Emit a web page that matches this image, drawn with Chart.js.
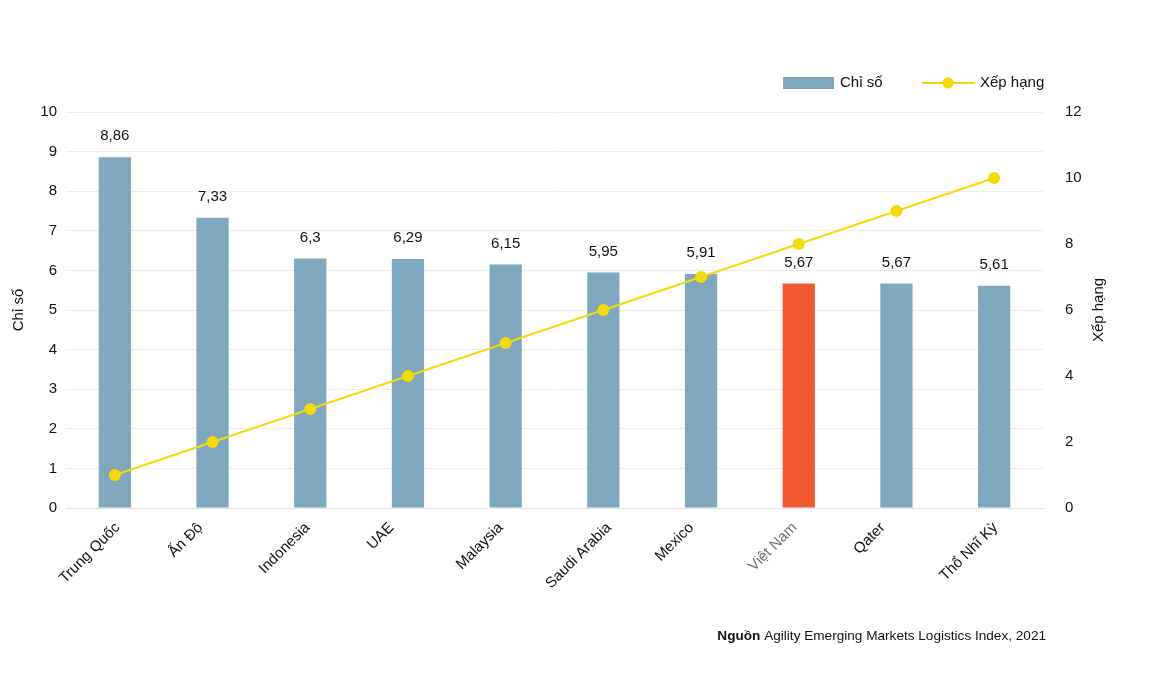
<!DOCTYPE html>
<html>
<head>
<meta charset="utf-8">
<script src="https://cdn.jsdelivr.net/npm/chart.js@4"></script>
<style>
  html, body { margin: 0; padding: 0; background: #fff; }
  #wrap { width: 1150px; height: 676px; position: relative; }
</style>
</head>
<body>
<div id="wrap"><canvas id="myChart" width="1150" height="676"></canvas></div>
<script>
const quocGia = ['Trung Quốc', 'Ấn Độ', 'Indonesia', 'UAE', 'Malaysia', 'Saudi Arabia', 'Mexico', 'Việt Nam', 'Qater', 'Thổ Nhĩ Kỳ'];
const chiSo = [8.86, 7.33, 6.3, 6.29, 6.15, 5.95, 5.91, 5.67, 5.67, 5.61];
const xepHang = [1, 2, 3, 4, 5, 6, 7, 8, 9, 10];
const nhanChiSo = ['8,86', '7,33', '6,3', '6,29', '6,15', '5,95', '5,91', '5,67', '5,67', '5,61'];

const mauCot = '#7fa7be';
const mauVN = '#f15a31';
const mauDuong = '#f5d90a';
const FONT = "'Liberation Sans', Arial, sans-serif";

Chart.defaults.font.family = FONT;
Chart.defaults.color = '#111';

// nhan gia tri tren cot, nhan truc x, chu thich, tieu de truc phai, nguon
const veThem = {
  id: 'veThem',
  afterDatasetsDraw(chart) {
    const ctx = chart.ctx;
    const meta = chart.getDatasetMeta(1);
    const xScale = chart.scales.x;
    ctx.save();
    ctx.font = '15px ' + FONT;
    ctx.fillStyle = '#111';
    ctx.textAlign = 'center';
    ctx.textBaseline = 'middle';
    meta.data.forEach(function (bar, i) {
      ctx.fillText(nhanChiSo[i], bar.x, bar.y - 21);
    });

    // nhan truc x xoay 45 do
    ctx.textAlign = 'right';
    ctx.textBaseline = 'top';
    quocGia.forEach(function (q, i) {
      const w = ctx.measureText(q).width;
      const x = xScale.getPixelForValue(i) + 0.4 * w - 34;
      ctx.save();
      ctx.translate(x, 520);
      ctx.rotate(-Math.PI / 4);
      ctx.fillStyle = q === 'Việt Nam' ? '#707070' : '#111';
      ctx.fillText(q, 0, 0);
      ctx.restore();
    });

    // chu thich
    ctx.textBaseline = 'middle';
    ctx.fillStyle = mauCot;
    ctx.fillRect(783, 77, 51, 12);
    ctx.fillStyle = '#111';
    ctx.textAlign = 'left';
    ctx.fillText('Chỉ số', 840, 83);
    ctx.strokeStyle = mauDuong;
    ctx.lineWidth = 2;
    ctx.beginPath();
    ctx.moveTo(922, 83);
    ctx.lineTo(975, 83);
    ctx.stroke();
    ctx.fillStyle = mauDuong;
    ctx.beginPath();
    ctx.arc(948, 83, 5.5, 0, Math.PI * 2);
    ctx.fill();
    ctx.fillStyle = '#111';
    ctx.fillText('Xếp hạng', 980, 83);

    // tieu de truc phai
    ctx.save();
    ctx.translate(1099, 310);
    ctx.rotate(-Math.PI / 2);
    ctx.textAlign = 'center';
    ctx.fillText('Xếp hạng', 0, 0);
    ctx.restore();

    // nguon
    ctx.font = '13.6px ' + FONT;
    ctx.textAlign = 'right';
    const phan2 = ' Agility Emerging Markets Logistics Index, 2021';
    const w2 = ctx.measureText(phan2).width;
    ctx.fillText(phan2, 1046, 636);
    ctx.font = 'bold 13.6px ' + FONT;
    ctx.fillText('Nguồn', 1046 - w2, 636);
    ctx.restore();
  }
};

const data = {
  labels: quocGia,
  datasets: [{
    type: 'line',
    label: 'Xếp hạng',
    data: xepHang,
    yAxisID: 'y1',
    borderColor: mauDuong,
    backgroundColor: mauDuong,
    borderWidth: 2,
    pointRadius: 6,
    pointHoverRadius: 6,
    pointBorderWidth: 0,
    order: 0
  }, {
    type: 'bar',
    label: 'Chỉ số',
    data: chiSo,
    yAxisID: 'y',
    backgroundColor: quocGia.map(function (q) { return q === 'Việt Nam' ? mauVN : mauCot; }),
    barPercentage: 0.33,
    categoryPercentage: 1,
    order: 1
  }]
};

const config = {
  data: data,
  plugins: [veThem],
  options: {
    responsive: false,
    animation: false,
    layout: { padding: { top: 112, left: 0, right: 0, bottom: 0 } },
    plugins: {
      legend: { display: false },
      tooltip: { enabled: false }
    },
    scales: {
      x: {
        grid: { display: false },
        border: { color: '#e3e3e3' },
        ticks: { display: false },
        afterFit: function (s) { s.height = 168; }
      },
      y: {
        position: 'left',
        min: 0,
        max: 10,
        ticks: { stepSize: 1, font: { size: 15 }, padding: 9 },
        grid: { color: '#ececec', drawTicks: false },
        border: { display: false },
        title: { display: true, text: 'Chỉ số', font: { size: 15 }, padding: { top: 10, bottom: 0 } },
        afterFit: function (s) { s.width = 66; }
      },
      y1: {
        position: 'right',
        min: 0,
        max: 12,
        ticks: { stepSize: 2, font: { size: 15 }, padding: 14 },
        grid: { display: false },
        border: { display: false },
        afterFit: function (s) { s.width = 107; }
      }
    }
  }
};

const myChart = new Chart(document.getElementById('myChart'), config);
</script>
</body>
</html>
